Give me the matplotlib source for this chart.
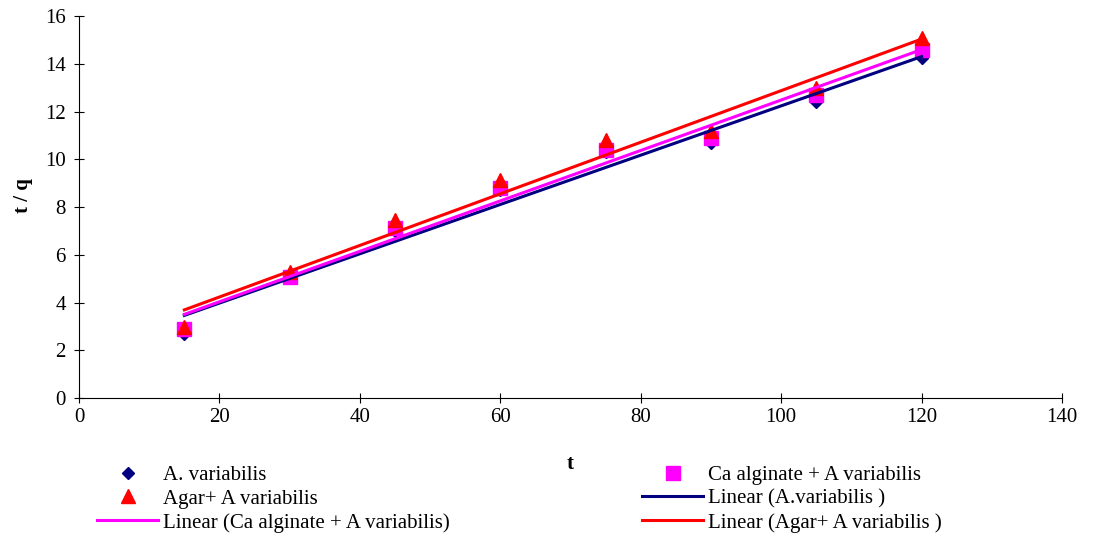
import matplotlib
matplotlib.use("Agg")
import matplotlib.pyplot as plt
from matplotlib.lines import Line2D
import numpy as np

plt.rcParams['font.family'] = ['Liberation Serif', 'DejaVu Serif']

# contact time (min)
t = [15, 30, 45, 60, 75, 90, 105, 120]

# t/q values
free_cells = [2.7, 5.05, 7.0, 8.7, 10.3, 10.68, 12.4, 14.24]
ca_alginate = [2.87, 5.05, 7.12, 8.8, 10.39, 10.9, 12.7, 14.58]
agar = [2.97, 5.3, 7.45, 9.13, 10.8, 11.2, 13.0, 15.08]

labels = ['A. variabilis', 'Ca alginate + A variabilis', 'Agar+ A variabilis']
fit_labels = ['Linear (A.variabilis )', 'Linear (Ca alginate + A variabilis)',
              'Linear (Agar+ A variabilis )']

navy = '#000080'
magenta = '#FF00FF'
red = '#FF0000'

fig = plt.figure(figsize=(10.93, 5.4), dpi=100)
ax = fig.add_axes([0.0723, 0.263, 0.8993, 0.707])

ax.plot(t, free_cells, 'D', color=navy, markersize=6, zorder=2)
ax.plot(t, ca_alginate, 's', color=magenta, markersize=10, zorder=3)
ax.plot(t, agar, '^', color=red, markersize=10, zorder=4)

# linear trendlines, like Excel does
x = np.array(t, dtype=float)
for y, c in [(free_cells, navy), (ca_alginate, magenta), (agar, red)]:
    k, b = np.polyfit(x, y, 1)
    ax.plot([x[0], x[-1]], [k * x[0] + b, k * x[-1] + b], color=c, lw=2.2, zorder=5)

ax.set_xlim(0, 140)
ax.set_ylim(0, 16)
ax.set_xticks(range(0, 141, 20))
ax.set_yticks(range(0, 17, 2))
ax.tick_params(direction='inout', length=7, labelsize=15, width=0.8)
ax.tick_params(axis='y', pad=6)
ax.spines['top'].set_visible(False)
ax.spines['right'].set_visible(False)
ax.set_xlabel('t', fontsize=15, fontweight='bold', labelpad=20)
ax.set_ylabel('t / q', fontsize=15, fontweight='bold')
ax.yaxis.set_label_coords(-0.047, 0.53)

# legend split in two columns below the plot
h_free = Line2D([], [], ls='none', marker='D', color=navy, markersize=6)
h_ca = Line2D([], [], ls='none', marker='s', color=magenta, markersize=10)
h_agar = Line2D([], [], ls='none', marker='^', color=red, markersize=10)
h_lfree = Line2D([], [], color=navy, lw=2.2)
h_lca = Line2D([], [], color=magenta, lw=2.2)
h_lagar = Line2D([], [], color=red, lw=2.2)

kw = dict(frameon=False, fontsize=15, handlelength=2.9, handletextpad=0.25,
          labelspacing=0.2, borderpad=0, loc='upper left')
leg1 = fig.legend([h_free, h_agar, h_lca], [labels[0], labels[2], fit_labels[1]],
                  bbox_to_anchor=(87 / 1093, 1 - 455 / 540), **kw)
leg2 = fig.legend([h_ca, h_lfree, h_lagar], [labels[1], fit_labels[0], fit_labels[2]],
                  bbox_to_anchor=(632 / 1093, 1 - 455 / 540), **kw)

fig.savefig('out.png', dpi=100)
